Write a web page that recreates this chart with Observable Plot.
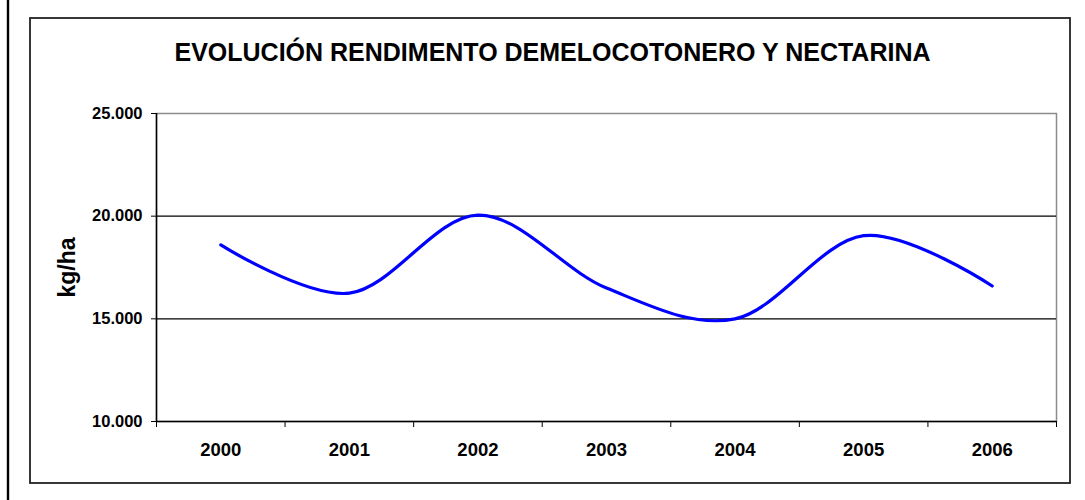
<!DOCTYPE html>
<html><head><meta charset="utf-8">
<script src="https://cdn.jsdelivr.net/npm/d3@7"></script>
<script src="https://cdn.jsdelivr.net/npm/@observablehq/plot@0.6"></script>
<style>body{margin:0;background:#fff;}</style>
</head><body><div id="chart"></div>
<script>
const years = [2000, 2001, 2002, 2003, 2004, 2005, 2006];
const yields = [18600, 16250, 20050, 16500, 15000, 19050, 16600];
const yTicks = [10000, 15000, 20000, 25000];
const gridValues = [15000, 20000];
const categoryEdges = [1999.5, 2000.5, 2001.5, 2002.5, 2003.5, 2004.5, 2005.5, 2006.5];
const titleText = ["EVOLUCIÓN RENDIMENTO DEMELOCOTONERO Y NECTARINA"];
const yLabelText = ["kg/ha"];

const data = years.map((y, i) => ({year: y, value: yields[i]}));
const esLocale = d3.formatLocale({decimal: ",", thousands: ".", grouping: [3], currency: ["", " €"]});
const fmtY = esLocale.format(",");
const font = "'Liberation Sans', Arial, sans-serif";

const chart = Plot.plot({
  width: 1085,
  height: 500,
  marginLeft: 156,
  marginRight: 29,
  marginTop: 113,
  marginBottom: 79,
  style: {fontFamily: font, color: "#000", background: "transparent"},
  x: {type: "linear", domain: [1999.5, 2006.5]},
  y: {domain: [10000, 25000]},
  marks: [
    Plot.frame({stroke: "#8c8c8c", strokeWidth: 1.5}),
    Plot.ruleY(gridValues, {stroke: "#000", strokeWidth: 1.2}),
    Plot.ruleY([10000], {stroke: "#000", strokeWidth: 1.5}),
    Plot.ruleX([categoryEdges[0]], {stroke: "#000", strokeWidth: 1.5}),
    Plot.axisY({ticks: yTicks, tickSize: 5, tickPadding: 9, tickFormat: fmtY, label: null,
      fontSize: 16.5, fontWeight: "bold", stroke: "#000"}),
    Plot.axisX({ticks: categoryEdges, tickSize: 6, tickFormat: () => "", label: null, stroke: "#000"}),
    Plot.axisX({ticks: years, tickSize: 0, tickPadding: 21, tickFormat: d3.format("d"), label: null,
      fontSize: 18.5, fontWeight: "bold"}),
    Plot.line(data, {x: "year", y: "value", curve: "cardinal", stroke: "#0000ff", strokeWidth: 3.2}),
    Plot.text(titleText, {frameAnchor: "top", text: d => d, dx: -54, dy: -61, lineAnchor: "middle",
      fontSize: 25, fontWeight: "bold", fill: "#000"}),
    Plot.text(yLabelText, {frameAnchor: "left", text: d => d, rotate: -90, dx: -88.5, lineAnchor: "middle",
      textAnchor: "middle", fontSize: 23, fontWeight: "bold", fill: "#000"})
  ]
});

const svg = d3.select(chart);
svg.insert("rect", ":first-child")
  .attr("x", 30).attr("y", 18).attr("width", 1040).attr("height", 465)
  .attr("fill", "none").attr("stroke", "#222").attr("stroke-width", 1.8);
svg.insert("line", ":first-child")
  .attr("x1", 8).attr("x2", 8).attr("y1", 0).attr("y2", 500)
  .attr("stroke", "#000").attr("stroke-width", 2.4);
document.getElementById("chart").appendChild(chart);
</script>
</body></html>
